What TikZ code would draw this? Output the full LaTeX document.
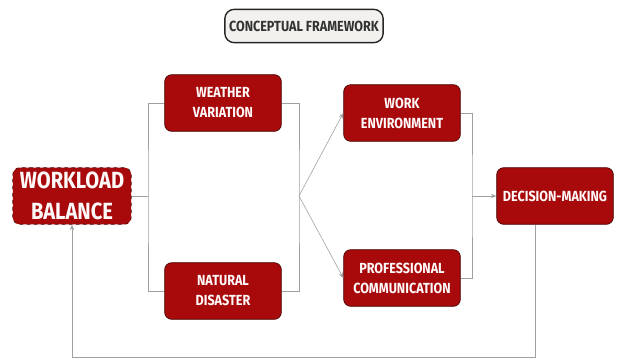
\documentclass[tikz,border=0pt]{standalone}
\usepackage{fontspec}
\newfontfamily\boxfont{Fira Sans}[FakeStretch=0.86]
\usetikzlibrary{arrows.meta}

\definecolor{boxred}{HTML}{A80A0C}
\definecolor{boxedge}{HTML}{4A0606}
\definecolor{linkgray}{HTML}{A0A0A0}
\definecolor{titlefill}{HTML}{F3F1EE}

\tikzset{
  factor/.style={rectangle,rounded corners=6pt,draw=boxedge,semithick,fill=boxred,
    text=white!92!pink,align=center,minimum width=3.5cm,minimum height=1.7cm,
    font=\boxfont\bfseries\fontsize{12.5}{17}\selectfont},
  link/.style={draw=linkgray,line width=0.5pt},
  arrow/.style={link,-{Stealth[length=1.6mm,width=1.3mm]}}
}

\begin{document}
\begin{tikzpicture}[x=0.03cm,y=-0.03cm]
        \useasboundingbox (0,0) rectangle (617,360);
        \node [rectangle,rounded corners=8pt,draw=black!85,line width=1.2pt,fill=titlefill,
          text=black!80,minimum width=4.75cm,minimum height=1cm,
          font=\boxfont\bfseries\fontsize{12.5}{14}\selectfont] (title) at (304,26) {CONCEPTUAL FRAMEWORK};
        \node [factor,dashed,minimum width=3.55cm,
          font=\boxfont\bfseries\fontsize{20}{27}\selectfont] (workload) at (72,196) {WORKLOAD\\BALANCE};
        \node [factor] (weather) at (223,103) {WEATHER\\VARIATION};
        \node [factor] (disaster) at (223,291) {NATURAL\\DISASTER};
        \node [factor] (workenv) at (402,113) {WORK\\ENVIRONMENT};
        \node [factor] (profcomm) at (402,278) {PROFESSIONAL\\COMMUNICATION};
        \node [factor] (decision) at (555,196) {DECISION-MAKING};
        \coordinate (splitL) at (148,196);
        \coordinate (joinM) at (299,196);
        \coordinate (joinR) at (472,196);
        \coordinate (loopR) at (535,357);
        \coordinate (loopL) at (72,357);
        \draw[link] (workload.east) -- (splitL);
        \draw[link] (weather.west) -| (splitL) |- (disaster.west);
        \draw[link] (weather.east) -| (joinM) |- (disaster.east);
        \draw[arrow] (joinM) -- (workenv.west);
        \draw[arrow] (joinM) -- (profcomm.west);
        \draw[link] (workenv.east) -| (joinR) |- (profcomm.east);
        \draw[arrow] (joinR) -- (decision.west);
        \draw[arrow] (loopR |- decision.south) -- (loopR) -- (loopL) -- (workload.south);
      \end{tikzpicture}
\end{document}
